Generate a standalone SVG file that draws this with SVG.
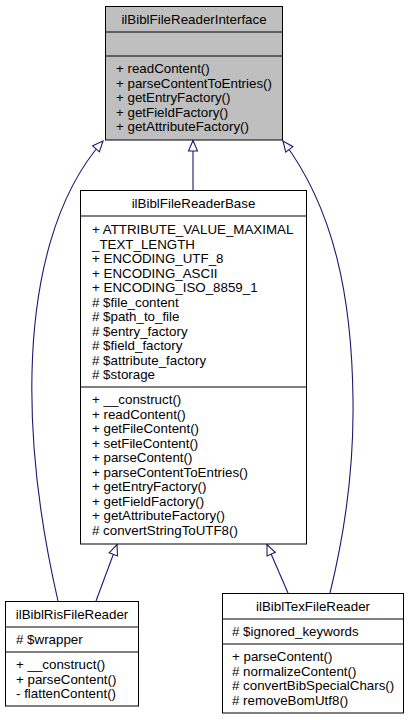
<svg xmlns="http://www.w3.org/2000/svg" width="409" height="720" viewBox="0 0 409 720">
<style>
text{font-family:"Liberation Sans",Arial,Helvetica,sans-serif;font-size:13.33px;fill:#000}
.t{text-anchor:middle}
.box{fill:#fff;stroke:#000;stroke-width:1}
.cur{fill:#bfbfbf;stroke:#000;stroke-width:1}
.div{stroke:#000;stroke-width:1}
.edge{fill:none;stroke:#191970;stroke-width:1.1}
</style>
<defs>
<marker id="arr" markerUnits="userSpaceOnUse" markerWidth="14" markerHeight="12" refX="11" refY="5" orient="auto" overflow="visible">
<path d="M0.5,0.5 L11,5 L0.5,9.5 Z" fill="#fff" stroke="#191970" stroke-width="1.1"/>
</marker>
</defs>
<rect width="409" height="720" fill="#fff"/>
<g id="connectors">
<path class="edge" d="M193,190 L193,140.5" marker-end="url(#arr)"/>
<path class="edge" d="M58,601 C44,540 30,460 32,373 C34,280 55,195 103,141" marker-end="url(#arr)"/>
<path class="edge" d="M330,593 C343,540 354,470 353,400 C352,300 335,210 283,141" marker-end="url(#arr)"/>
<path class="edge" d="M96,601 L117,544.5" marker-end="url(#arr)"/>
<path class="edge" d="M288,593 L267,544.5" marker-end="url(#arr)"/>
</g>
<g id="ilBiblFileReaderInterface">
<rect class="cur" x="105.5" y="6.5" width="177" height="133.5"/>
<line class="div" x1="105.5" y1="32" x2="282.5" y2="32"/>
<line class="div" x1="105.5" y1="56" x2="282.5" y2="56"/>
<text class="t" x="194" y="23.7">ilBiblFileReaderInterface</text>
<text x="116" y="73.2">+ readContent()</text>
<text x="116" y="87.7">+ parseContentToEntries()</text>
<text x="116" y="102.2">+ getEntryFactory()</text>
<text x="116" y="116.7">+ getFieldFactory()</text>
<text x="116" y="131.2">+ getAttributeFactory()</text>
</g>
<g id="ilBiblFileReaderBase">
<rect class="box" x="80.5" y="190.5" width="226" height="353.5"/>
<line class="div" x1="80.5" y1="216" x2="306.5" y2="216"/>
<line class="div" x1="80.5" y1="387" x2="306.5" y2="387"/>
<text class="t" x="193.5" y="207.7">ilBiblFileReaderBase</text>
<text x="92" y="234.2">+ ATTRIBUTE_VALUE_MAXIMAL</text>
<text x="92" y="248.7">_TEXT_LENGTH</text>
<text x="92" y="263.2">+ ENCODING_UTF_8</text>
<text x="92" y="277.7">+ ENCODING_ASCII</text>
<text x="92" y="292.2">+ ENCODING_ISO_8859_1</text>
<text x="92" y="306.7"># $file_content</text>
<text x="92" y="321.2"># $path_to_file</text>
<text x="92" y="335.7"># $entry_factory</text>
<text x="92" y="350.2"># $field_factory</text>
<text x="92" y="364.7"># $attribute_factory</text>
<text x="92" y="379.2"># $storage</text>
<text x="92" y="404.2">+ __construct()</text>
<text x="92" y="418.7">+ readContent()</text>
<text x="92" y="433.2">+ getFileContent()</text>
<text x="92" y="447.7">+ setFileContent()</text>
<text x="92" y="462.2">+ parseContent()</text>
<text x="92" y="476.7">+ parseContentToEntries()</text>
<text x="92" y="491.2">+ getEntryFactory()</text>
<text x="92" y="505.7">+ getFieldFactory()</text>
<text x="92" y="520.2">+ getAttributeFactory()</text>
<text x="92" y="534.7"># convertStringToUTF8()</text>
</g>
<g id="ilBiblRisFileReader">
<rect class="box" x="5.5" y="601.5" width="133" height="104.5"/>
<line class="div" x1="5.5" y1="627" x2="138.5" y2="627"/>
<line class="div" x1="5.5" y1="652" x2="138.5" y2="652"/>
<text class="t" x="72" y="618.7">ilBiblRisFileReader</text>
<text x="16" y="644.2"># $wrapper</text>
<text x="16" y="669.2">+ __construct()</text>
<text x="16" y="683.7">+ parseContent()</text>
<text x="16" y="698.2">- flattenContent()</text>
</g>
<g id="ilBiblTexFileReader">
<rect class="box" x="222.5" y="593.5" width="181" height="119.5"/>
<line class="div" x1="222.5" y1="619" x2="403.5" y2="619"/>
<line class="div" x1="222.5" y1="644" x2="403.5" y2="644"/>
<text class="t" x="313" y="610.7">ilBiblTexFileReader</text>
<text x="232" y="636.2"># $ignored_keywords</text>
<text x="232" y="661.2">+ parseContent()</text>
<text x="232" y="675.7"># normalizeContent()</text>
<text x="232" y="690.2"># convertBibSpecialChars()</text>
<text x="232" y="704.7"># removeBomUtf8()</text>
</g>
</svg>
